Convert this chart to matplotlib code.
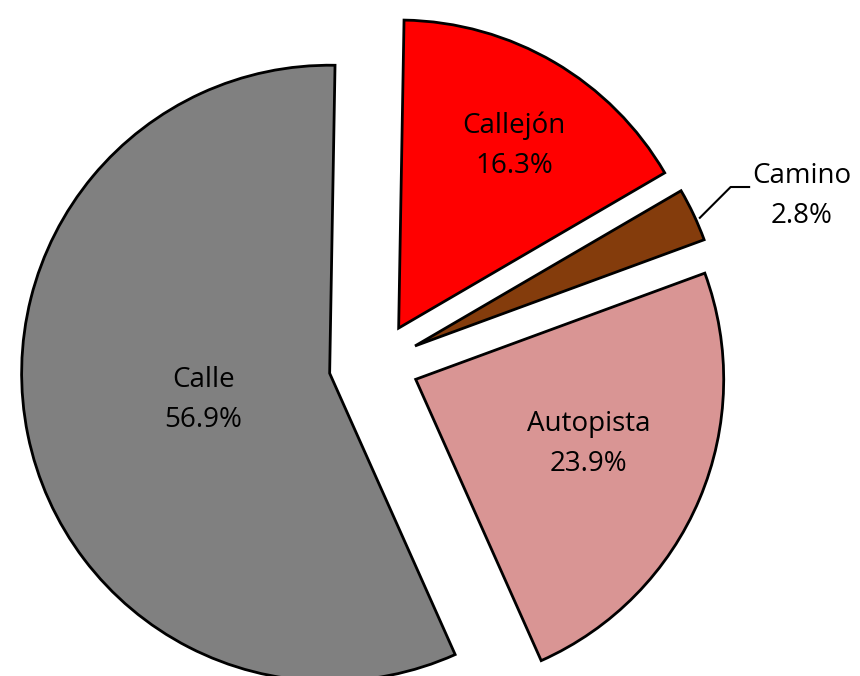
import numpy as np
import matplotlib.pyplot as plt

# DATA
categories = ['Callejón', 'Camino', 'Autopista', 'Calle']
shares = [16.3, 2.8, 23.9, 56.9]
colors = ['#FF0000', '#843C0C', '#D99594', '#808080']

plt.rcParams['font.family'] = ['Open Sans', 'DejaVu Sans']

fig = plt.figure(figsize=(8.6, 6.76), dpi=100)
ax = fig.add_axes([0, 0, 1, 1])

explode = [0.133, 0.133, 0.133, 0.16]
wedges, _ = ax.pie(shares, colors=colors, startangle=89, counterclock=False,
                   explode=explode, radius=1.0,
                   wedgeprops=dict(edgecolor='black', linewidth=2))

ax.set_xlim(-1.227, 1.565)
ax.set_ylim(-1.013, 1.178)
ax.set_aspect('equal')
ax.axis('off')

# label placement inside slices: (radius fraction, angle nudge in degrees)
label_pos = {'Callejón': (0.70, -2.0), 'Autopista': (0.60, 2.5), 'Calle': (0.42, 0.5)}

for w, name, val in zip(wedges, categories, shares):
    cx, cy = w.center
    txt = f'{name}\n{val:.1f}%'
    if name in label_pos:
        r, nudge = label_pos[name]
        mid = np.deg2rad((w.theta1 + w.theta2) / 2 + nudge)
        ax.text(cx + r * np.cos(mid), cy + r * np.sin(mid), txt,
                ha='center', va='center', fontsize=20, linespacing=1.55)
    else:
        # outside label with leader line
        mid = np.deg2rad((w.theta1 + w.theta2) / 2)
        x0 = cx + 1.0 * np.cos(mid)
        y0 = cy + 1.0 * np.sin(mid)
        ax.plot([x0 + 0.02, x0 + 0.12, x0 + 0.18],
                [y0 - 0.01, y0 + 0.09, y0 + 0.09], color='black', lw=1.5)
        ax.text(x0 + 0.35, y0 + 0.06, txt, ha='center', va='center',
                fontsize=20, linespacing=1.55)

fig.savefig('out.png', dpi=100)
